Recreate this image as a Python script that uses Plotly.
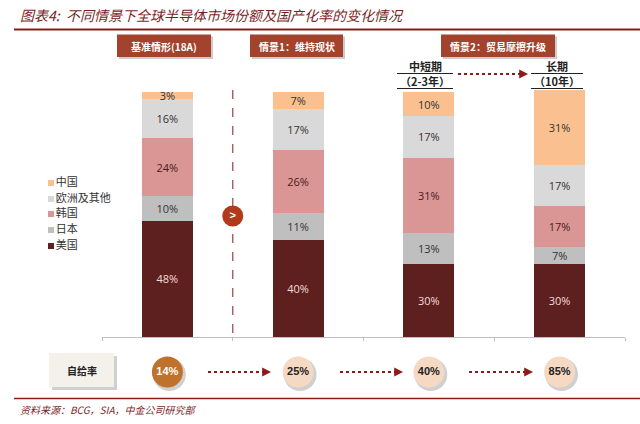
import plotly.graph_objects as go

# ---------------- data ----------------
scenarios = ["基准情形(18A)", "情景1: 维持现状", "情景2 中短期(2-3年)", "情景2 长期(10年)"]
series_names = ["美国", "日本", "韩国", "欧洲及其他", "中国"]
us = [48, 40, 30, 30]
japan = [10, 11, 13, 7]
korea = [24, 26, 31, 17]
europe = [16, 17, 17, 17]
china = [3, 7, 10, 31]
self_sufficiency = [14, 25, 40, 85]

series_values = [us, japan, korea, europe, china]
series_colors = ["#5E1F1F", "#BFBFBF", "#D99694", "#D9D9D9", "#FAC090"]
text_colors = ["#F2DCDB", "#333333", "#4A1A1A", "#333333", "#333333"]

W, H = 640, 424
X0, X1 = 102, 625     # plot area (px)
Y_BOT, Y_TOP = 337, 88

fig = go.Figure()

for name, vals, col, tc in zip(series_names, series_values, series_colors, text_colors):
    fig.add_trace(go.Bar(
        x=scenarios, y=vals, name=name,
        marker=dict(color=col, line=dict(width=0)),
        width=0.39,
        text=[f"{v}%" for v in vals], textposition="inside",
        insidetextanchor="middle", constraintext="none", textangle=0,
        textfont=dict(size=11, color=tc, family="Open Sans, Arial"),
        cliponaxis=False, hoverinfo="skip", showlegend=False,
    ))


def px2x(p):
    return (p - X0) / ((X1 - X0) / 4) - 0.5


# legend (drawn as a scatter so spacing matches)
legend_y = [246, 230, 214, 199, 183]
fig.add_trace(go.Scatter(
    x=[px2x(51)] * len(series_names), y=legend_y, xaxis="x2", yaxis="y2",
    mode="markers+text", marker=dict(symbol="square", size=6, color=series_colors, line=dict(width=0)),
    text=series_names, textposition="middle right",
    textfont=dict(size=11, color="#333333", family="Noto Sans CJK SC"),
    showlegend=False, hoverinfo="skip"))

# self-sufficiency circles
circle_colors = ["#C0712B", "#F5D9C3", "#F5D9C3", "#F5D9C3"]
circle_text = ["#FFFFFF", "#222222", "#222222", "#222222"]
idx = list(range(len(scenarios)))
fig.add_trace(go.Scatter(
    x=[i + 0.015 for i in idx], y=[374.5] * len(idx), xaxis="x2", yaxis="y2",
    mode="markers", marker=dict(size=33, color="rgba(120,120,120,0.35)", line=dict(width=0)),
    showlegend=False, hoverinfo="skip"))
fig.add_trace(go.Scatter(
    x=idx, y=[372] * len(idx), xaxis="x2", yaxis="y2",
    mode="markers+text", marker=dict(size=31, color=circle_colors, line=dict(width=0)),
    text=[f"<b>{v}%</b>" for v in self_sufficiency], textposition="middle center",
    textfont=dict(size=11, color=circle_text, family="Arial"),
    showlegend=False, hoverinfo="skip"))

# ">" circle on divider
fig.add_trace(go.Scatter(
    x=[0.5], y=[216], xaxis="x2", yaxis="y2", mode="markers+text",
    marker=dict(size=21, color="#B23A1C", line=dict(width=0)),
    text=["<b>></b>"], textposition="middle center",
    textfont=dict(size=11, color="white", family="Arial"),
    showlegend=False, hoverinfo="skip"))

shapes = []
annotations = []

# title and source lines
shapes.append(dict(type="line", xref="x2", yref="y2", x0=px2x(14), x1=px2x(640), y0=29.5, y1=29.5,
                   line=dict(color="#8B1A1A", width=2)))
shapes.append(dict(type="line", xref="x2", yref="y2", x0=px2x(14), x1=px2x(640), y0=398.5, y1=398.5,
                   line=dict(color="#8B1A1A", width=1.5)))

# header boxes
boxes = [(117, 211, "基准情形(18A)"), (250, 343, "情景1：维持现状"), (441, 555, "情景2：贸易摩擦升级")]
for bx0, bx1, label in boxes:
    shapes.append(dict(type="rect", xref="x2", yref="y2", x0=px2x(bx0 + 2), x1=px2x(bx1 + 2), y0=36.5, y1=59,
                       fillcolor="rgba(110,110,110,0.35)", line=dict(width=0)))
    shapes.append(dict(type="rect", xref="x2", yref="y2", x0=px2x(bx0), x1=px2x(bx1), y0=34.5, y1=57,
                       fillcolor="#A3422D", line=dict(width=0)))
    annotations.append(dict(x=px2x((bx0 + bx1) / 2), y=46, xref="x2", yref="y2", text=f"<b>{label}</b>",
                            showarrow=False, font=dict(size=10, color="white", family="Noto Sans CJK SC")))

# 自给率 box
shapes.append(dict(type="rect", xref="x2", yref="y2", x0=px2x(52), x1=px2x(117), y0=356, y1=390,
                   fillcolor="rgba(120,120,120,0.35)", line=dict(width=0)))
shapes.append(dict(type="rect", xref="x2", yref="y2", x0=px2x(49), x1=px2x(114), y0=353, y1=387,
                   fillcolor="#F4F0EA", line=dict(width=0)))
annotations.append(dict(x=px2x(81.5), y=370, xref="x2", yref="y2", text="<b>自给率</b>", showarrow=False,
                        font=dict(size=10, color="#222222", family="Noto Sans CJK SC")))

# vertical dashed divider
shapes.append(dict(type="line", xref="x2", yref="y2", x0=0.5, x1=0.5, y0=90, y1=338,
                   line=dict(color="#A05050", width=1.3, dash="dash"), layer="below"))

# dotted arrows
arrows = [(208, 265, 372), (340, 397, 372), (469, 527, 372), (458, 522, 74)]
for ax0, ax1, ay in arrows:
    shapes.append(dict(type="line", xref="x2", yref="y2", x0=px2x(ax0), x1=px2x(ax1), y0=ay, y1=ay,
                       line=dict(color="#8B1A1A", width=2, dash="dot")))
    annotations.append(dict(x=px2x(ax1 + 6), y=ay, ax=px2x(ax1 - 1), ay=ay, xref="x2", yref="y2",
                            axref="x2", ayref="y2", text="", showarrow=True, arrowhead=2,
                            arrowsize=1.1, arrowwidth=1.6, arrowcolor="#8B1A1A"))

# period labels
for cx, l1, l2, uw in [(425, "中短期", "（2-3年）", 28), (557, "长期", "（10年）", 26)]:
    annotations.append(dict(x=px2x(cx), y=66, xref="x2", yref="y2", text=f"<b>{l1}</b>", showarrow=False,
                            font=dict(size=11, color="#222222", family="Noto Sans CJK SC")))
    annotations.append(dict(x=px2x(cx), y=81, xref="x2", yref="y2", text=f"<b>{l2}</b>", showarrow=False,
                            font=dict(size=11, color="#222222", family="Noto Sans CJK SC")))
    for uy in (73.5, 88.5):
        shapes.append(dict(type="line", xref="x2", yref="y2", x0=px2x(cx - uw), x1=px2x(cx + uw),
                           y0=uy, y1=uy, line=dict(color="#222222", width=1)))

# title and source
annotations.append(dict(x=px2x(18), y=15, xref="x2", yref="y2", xanchor="left", yanchor="middle",
                        text="<i>图表4:  不同情景下全球半导体市场份额及国产化率的变化情况</i>", showarrow=False,
                        font=dict(size=14, color="#7A1F1F", family="Noto Sans CJK SC")))
annotations.append(dict(x=px2x(18), y=409, xref="x2", yref="y2", xanchor="left", yanchor="middle",
                        text="<i>资料来源：BCG，SIA，中金公司研究部</i>", showarrow=False,
                        font=dict(size=10, color="#7A1F1F", family="Noto Sans CJK SC")))

dom_x = [X0 / W, X1 / W]
ymax = 101 * 1.0 / ((Y_BOT - 92) / (Y_BOT - Y_TOP))

fig.update_layout(
    width=W, height=H, margin=dict(l=0, r=0, t=0, b=0),
    paper_bgcolor="white", plot_bgcolor="rgba(0,0,0,0)",
    barmode="stack", bargap=0.61, showlegend=False,
    font=dict(family="Noto Sans CJK SC"),
    xaxis=dict(domain=dom_x, type="category", range=[-0.5, 3.5], showticklabels=False,
               showline=True, linecolor="#BFBFBF", linewidth=1, ticks="outside", ticklen=3,
               tickcolor="#BFBFBF", tickson="boundaries", showgrid=False, zeroline=False, fixedrange=True),
    yaxis=dict(domain=[1 - Y_BOT / H, 1 - Y_TOP / H], range=[0, ymax], visible=False, fixedrange=True),
    xaxis2=dict(domain=[0, 1], anchor="y2", range=[px2x(0), px2x(W)], visible=False, fixedrange=True),
    yaxis2=dict(domain=[0, 1], anchor="x2", range=[H, 0], visible=False, fixedrange=True),
    shapes=shapes, annotations=annotations,
)

fig.write_html("out.html", config={"displayModeBar": False},
               post_script="document.body.style.margin='0';")
